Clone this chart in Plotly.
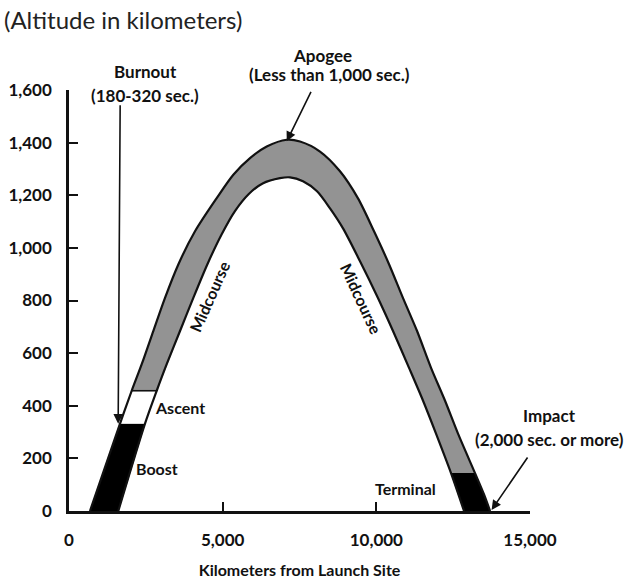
import plotly.graph_objects as go

# ---- data (km) ----
outer_x = [683, 1660, 2040, 2366, 2743, 3124, 3557, 4100, 4806, 5347, 5890, 6433, 7084,
           7517, 8168, 8818, 9404, 9925, 10413, 10869, 11325, 11780, 12236, 12658, 13211, 13504, 13700]
outer_y = [0, 332, 457, 558, 684, 810, 937, 1063, 1189, 1278, 1341, 1385, 1411,
           1404, 1366, 1291, 1188, 1063, 938, 809, 684, 544, 419, 294, 144, 63, 0]
inner_x = [1604, 2473, 2854, 3179, 3612, 4045, 4500, 4960, 5400, 5850, 6300, 6866, 7191,
           7614, 8070, 8493, 8916, 9469, 10022, 10543, 11064, 11520, 11942, 12430, 12853]
inner_y = [0, 332, 457, 558, 684, 810, 937, 1050, 1140, 1205, 1245, 1265, 1268,
           1253, 1215, 1150, 1074, 949, 817, 684, 544, 419, 294, 144, 0]

boost_top = 332      # burnout altitude
ascent_top = 457
terminal_top = 144

x_ticks = [0, 5000, 10000, 15000]
y_ticks = [0, 200, 400, 600, 800, 1000, 1200, 1400, 1600]

FONT = "Lato"
INK = "#111111"
GRAY = "#939393"


def first(ys, v):
    return ys.index(v)


def last(ys, v):
    return len(ys) - 1 - ys[::-1].index(v)


o_b, o_a, o_t = first(outer_y, boost_top), first(outer_y, ascent_top), last(outer_y, terminal_top)
i_b, i_a, i_t = first(inner_y, boost_top), first(inner_y, ascent_top), last(inner_y, terminal_top)

segments = [
    ((0, o_b), (0, i_b), "black"),
    ((o_b, o_a), (i_b, i_a), "white"),
    ((o_a, o_t), (i_a, i_t), GRAY),
    ((o_t, len(outer_x) - 1), (i_t, len(inner_x) - 1), "black"),
]

fig = go.Figure()
for (oa, ob), (ia, ib), col in segments:
    px_ = outer_x[oa:ob + 1] + inner_x[ia:ib + 1][::-1]
    py_ = outer_y[oa:ob + 1] + inner_y[ia:ib + 1][::-1]
    fig.add_trace(go.Scatter(x=px_, y=py_, mode="lines", fill="toself", fillcolor=col,
                             line=dict(width=0.5, color=col),
                             hoverinfo="skip", showlegend=False))

# outlines
for xs, ys in [(outer_x, outer_y), (inner_x, inner_y)]:
    fig.add_trace(go.Scatter(x=xs, y=ys, mode="lines",
                             line=dict(color=INK, width=2.2, shape="spline", smoothing=0.8),
                             hoverinfo="skip", showlegend=False))
fig.add_trace(go.Scatter(x=[outer_x[o_a], inner_x[i_a]], y=[ascent_top, ascent_top], mode="lines",
                         line=dict(color=INK, width=1.6), hoverinfo="skip", showlegend=False))

ann = []


def label(text, x, y, size=16, angle=0, ref="x"):
    ann.append(dict(text=text, x=x, y=y,
                    xref="paper" if ref == "paper" else "x",
                    yref="paper" if ref == "paper" else "y",
                    showarrow=False, textangle=angle, xanchor="center", yanchor="middle",
                    font=dict(family=FONT, size=size, color=INK, weight="bold")))


label("Burnout", 0.167, 1.045, 17, ref="paper")
label("(180-320 sec.)", 0.165, 0.988, 17, ref="paper")
label("Apogee", 0.549, 1.083, 17, ref="paper")
label("(Less than 1,000 sec.)", 0.566, 1.036, 17, ref="paper")
label("Impact", 1.043, 0.226, 17, ref="paper")
label("(2,000 sec. or more)", 1.043, 0.171, 17, ref="paper")
label("Ascent", 3612, 395, 16)
label("Boost", 2864, 163, 16)
label("Terminal", 10933, 84, 16)
label("Midcourse", 4556, 817, 16, angle=-66)
label("Midcourse", 9502, 806, 16, angle=65)


def arrow(x, y, ax, ay):
    ann.append(dict(text="", x=x, y=y, xref="x", yref="y", ax=ax, ay=ay,
                    showarrow=True, arrowhead=2, arrowsize=1.2, arrowwidth=1.6,
                    arrowcolor=INK, standoff=0))


arrow(1600, boost_top, 2, -320)
arrow(7084, 1405, 25, -51)
arrow(13750, 4, 37, -54)

axis_common = dict(showline=True, linecolor=INK, linewidth=2.5, ticks="inside", ticklen=9,
                   tickwidth=2, tickcolor=INK, showgrid=False, zeroline=False,
                   tickformat=",d", automargin=False,
                   tickfont=dict(family=FONT, size=17, color=INK, weight="bold"))

fig.update_layout(
    width=634, height=579,
    margin=dict(l=69, r=104, t=90, b=68),
    paper_bgcolor="white", plot_bgcolor="white",
    title=dict(text="(Altitude in kilometers)", x=0, xanchor="left", pad=dict(l=4),
               y=1 - 21 / 579, yanchor="middle", automargin=False,
               font=dict(family=FONT, size=24, color="#222222")),
    xaxis=dict(range=[0, 15000], tickvals=x_ticks, ticklabelstandoff=12,
               title=dict(text="Kilometers from Launch Site", standoff=18,
                          font=dict(family=FONT, size=16, color=INK, weight="bold")),
               **axis_common),
    yaxis=dict(range=[0, 1600], tickvals=y_ticks, ticklabelstandoff=11, **axis_common),
    annotations=ann,
)

fig.write_html("out.html", config={"displayModeBar": False},
               post_script="document.body.style.margin='0';document.body.style.overflow='hidden';")
